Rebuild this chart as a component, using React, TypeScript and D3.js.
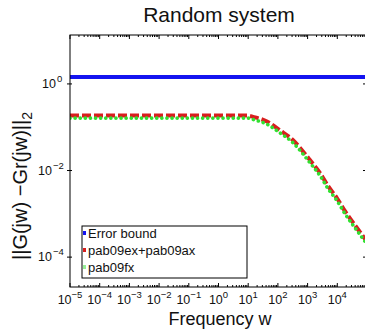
import * as d3 from 'd3';

// frequencies (rad/s) where the error curves were read
const freqs = [1e-5, 1e-3, 1e-1, 1, 10, 14.5, 43, 117, 324, 646, 1200, 2630, 4900, 9800, 18200, 40000, 74000, 1e5];
const errExAx = [0.186, 0.186, 0.186, 0.186, 0.186, 0.174, 0.135, 0.0851, 0.0501, 0.0295, 0.0174, 0.0087, 0.00437, 0.00229, 0.00115, 0.000537, 0.000302, 0.000229];
const errFx = [0.162, 0.162, 0.162, 0.162, 0.162, 0.151, 0.117, 0.0741, 0.0437, 0.0257, 0.0151, 0.00759, 0.0038, 0.002, 0.001, 0.000468, 0.000263, 0.0002];
const boundFreqs = [1e-5, 1e5];
const boundVals = [1.45, 1.45];

const xTickExps = [-5, -4, -3, -2, -1, 0, 1, 2, 3, 4];
const yTickExps = [0, -2, -4];
const legendLabels = ['Error bound', 'pab09ex+pab09ax', 'pab09fx'];

const BLUE = '#1414f0';
const RED = '#d81e1e';
const GREEN = '#30e030';
const FONT = 'Liberation Sans, Arial, sans-serif';

const sup = (e: number) => (e < 0 ? '\u2212' + Math.abs(e) : String(e));

export default function App() {
  const width = 365;
  const height = 329;
  const plot = { left: 70, right: 367, top: 35, bottom: 287 };

  const x = d3.scaleLog().domain([1e-5, 1e5]).range([plot.left, plot.right]);
  const y = d3
    .scaleLog()
    .domain([Math.pow(10, -4.69), Math.pow(10, 1.13)])
    .range([plot.bottom, plot.top]);

  const line = d3
    .line<[number, number]>()
    .x((d) => x(d[0]))
    .y((d) => y(d[1]))
    .curve(d3.curveMonotoneX);

  const boundPath = line(boundFreqs.map((f, i) => [f, boundVals[i]]) as [number, number][]) ?? '';
  const redPath = line(freqs.map((f, i) => [f, errExAx[i]]) as [number, number][]) ?? '';
  const greenPath = line(freqs.map((f, i) => [f, errFx[i]]) as [number, number][]) ?? '';

  // minor ticks 2..9 per decade
  const minor: number[] = [];
  for (let e = -5; e < 5; e++) {
    for (let k = 2; k <= 9; k++) minor.push(k * Math.pow(10, e));
  }

  const colors = [BLUE, RED, GREEN];

  return (
    <svg
      width={width}
      height={height}
      style={{ position: 'fixed', left: 0, top: 0, background: '#fff' }}
      fontFamily={FONT}
    >
      <defs>
        <clipPath id='plotclip'>
          <rect x={plot.left} y={plot.top} width={plot.right - plot.left} height={plot.bottom - plot.top} />
        </clipPath>
      </defs>
      <rect width={width} height={height} fill='#fff' />

      <text x={219} y={22} textAnchor='middle' fontSize={21} fill='#111'>
        Random system
      </text>

      {/* data */}
      <g clipPath='url(#plotclip)'>
        <path d={boundPath} fill='none' stroke={BLUE} strokeWidth={4} />
        <path d={redPath} fill='none' stroke={RED} strokeWidth={4} strokeDasharray='9 3' />
        <path
          d={greenPath}
          fill='none'
          stroke={GREEN}
          strokeWidth={3.6}
          strokeLinecap='round'
          strokeDasharray='0.1 5'
        />
      </g>

      {/* axes box */}
      <rect
        x={plot.left}
        y={plot.top}
        width={plot.right - plot.left}
        height={plot.bottom - plot.top}
        fill='none'
        stroke='#000'
        strokeWidth={1}
      />

      {/* x ticks */}
      {minor.map((m) => (
        <g key={m}>
          <line x1={x(m)} x2={x(m)} y1={plot.bottom} y2={plot.bottom - 2} stroke='#000' />
          <line x1={x(m)} x2={x(m)} y1={plot.top} y2={plot.top + 2} stroke='#000' />
        </g>
      ))}
      {xTickExps.map((e) => {
        const px = x(Math.pow(10, e));
        return (
          <g key={e}>
            <line x1={px} x2={px} y1={plot.bottom} y2={plot.bottom - 4} stroke='#000' />
            <line x1={px} x2={px} y1={plot.top} y2={plot.top + 4} stroke='#000' />
            <text x={px} y={304} textAnchor='middle' fontSize={12.5} fill='#111'>
              10
              <tspan dy={-6} fontSize={9.5}>
                {sup(e)}
              </tspan>
            </text>
          </g>
        );
      })}

      {/* y ticks */}
      {yTickExps.map((e) => {
        const py = y(Math.pow(10, e));
        return (
          <g key={e}>
            <line x1={plot.left - 3} x2={plot.left + 2} y1={py} y2={py} stroke='#000' />
            <line x1={plot.right} x2={plot.right - 4} y1={py} y2={py} stroke='#000' />
            <text x={e === 0 ? 56 : 52} y={py + 4} textAnchor='end' fontSize={12.5} fill='#111'>
              10
            </text>
            <text x={e === 0 ? 57 : 53} y={py - 2} fontSize={9.5} fill='#111'>
              {sup(e)}
            </text>
          </g>
        );
      })}

      {/* axis labels */}
      <text x={220} y={325} textAnchor='middle' fontSize={18} fill='#111'>
        Frequency w
      </text>
      <text
        transform={`translate(27,186) rotate(-90)`}
        textAnchor='middle'
        fontSize={20}
        fill='#111'
      >
        ||G(jw) −Gr(jw)||
        <tspan dy={5} fontSize={14}>
          2
        </tspan>
      </text>

      {/* legend */}
      <g>
        <rect x={82} y={226} width={165} height={52} fill='#fff' stroke='#000' strokeWidth={1} />
        {legendLabels.map((label, i) => {
          const cy = 233 + i * 17;
          return (
            <g key={label}>
              <rect x={83} y={cy - 2} width={3} height={4} fill={colors[i]} opacity={i === 2 ? 0.5 : 1} />
              <text x={88} y={cy + 5} fontSize={13} fill='#111'>
                {label}
              </text>
            </g>
          );
        })}
      </g>
    </svg>
  );
}
